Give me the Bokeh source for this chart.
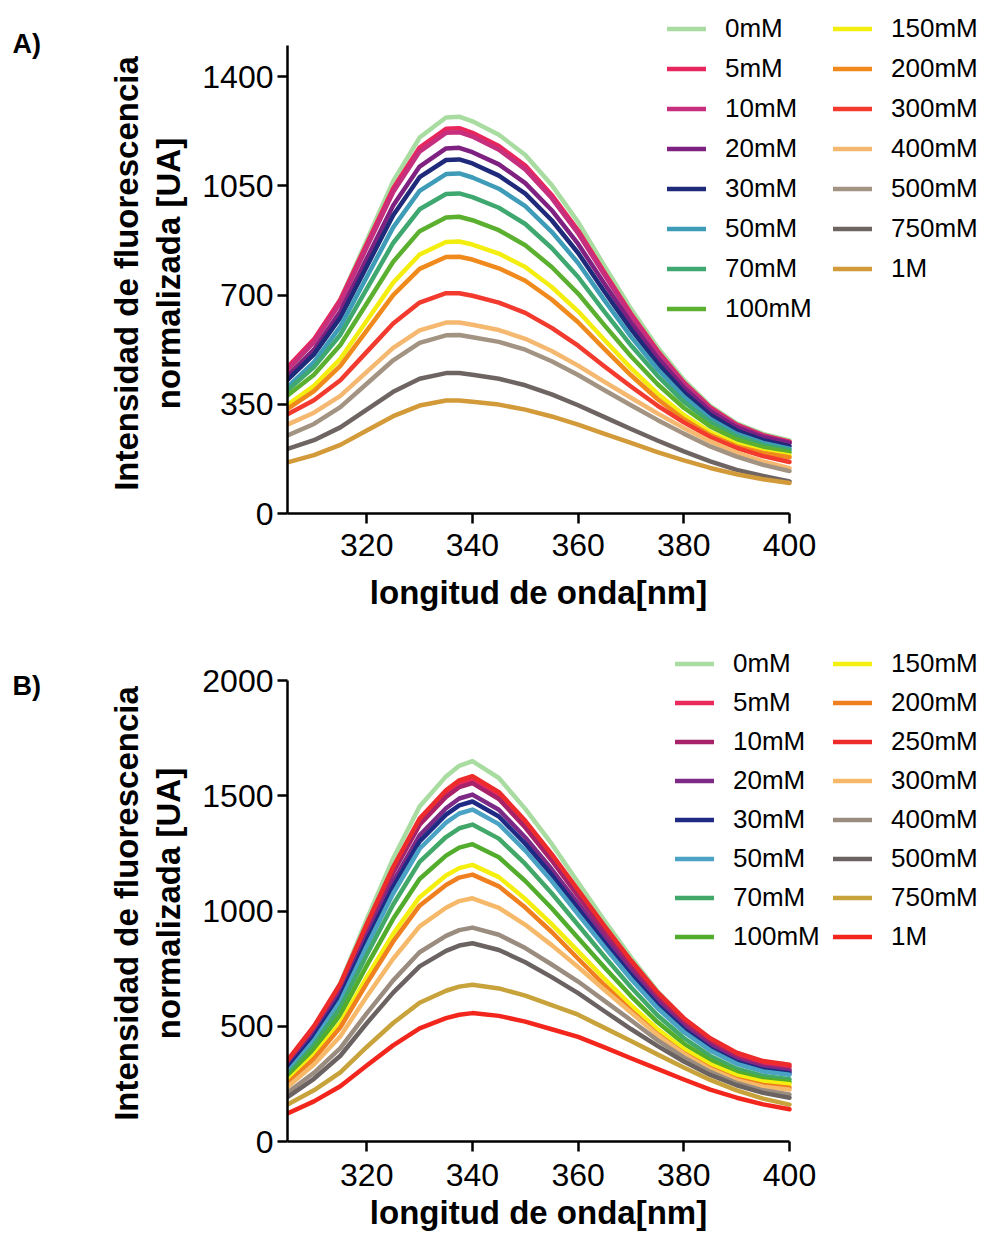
import math
from bokeh.plotting import figure
from bokeh.models import Legend, LegendItem, Label, Range1d, FixedTicker
from bokeh.layouts import column, row
from bokeh.embed import file_html
from bokeh.resources import INLINE

# ---------------- data ----------------
wavelength = [305, 310, 315, 320, 325, 330, 335, 337.5, 340, 345, 350, 355, 360,
              365, 370, 375, 380, 385, 390, 395, 400]

# Panel A
a_labels = ["0mM", "5mM", "10mM", "20mM", "30mM", "50mM", "70mM", "100mM",
            "150mM", "200mM", "300mM", "400mM", "500mM", "750mM", "1M"]
a_0mM = [455, 551, 686, 875, 1065, 1205, 1269, 1272, 1257, 1214, 1149, 1053, 934, 793, 656, 533, 428, 345, 289, 255, 234]
a_5mM = [469, 558, 685, 864, 1042, 1173, 1233, 1235, 1220, 1178, 1115, 1021, 907, 772, 640, 522, 420, 340, 285, 251, 230]
a_10mM = [460, 549, 675, 853, 1030, 1160, 1220, 1222, 1208, 1166, 1103, 1011, 898, 764, 634, 516, 416, 336, 282, 249, 228]
a_20mM = [440, 525, 647, 817, 987, 1112, 1170, 1172, 1158, 1119, 1059, 972, 864, 736, 612, 500, 404, 328, 277, 245, 226]
a_30mM = [428, 510, 628, 792, 956, 1078, 1133, 1135, 1122, 1083, 1025, 940, 835, 711, 591, 482, 389, 316, 266, 235, 216]
a_50mM = [405, 485, 599, 758, 917, 1034, 1088, 1090, 1077, 1041, 985, 903, 803, 683, 567, 463, 374, 303, 255, 226, 208]
a_70mM = [395, 469, 573, 720, 867, 975, 1024, 1026, 1014, 980, 928, 851, 758, 646, 539, 442, 358, 293, 248, 220, 203]
a_100mM = [378, 445, 540, 673, 807, 905, 949, 951, 940, 908, 860, 790, 705, 603, 504, 415, 339, 279, 237, 212, 196]
a_150mM = [348, 409, 496, 618, 740, 830, 870, 872, 862, 833, 790, 726, 648, 556, 466, 385, 316, 261, 223, 200, 186]
a_200mM = [335, 392, 473, 586, 700, 784, 822, 823, 814, 786, 746, 686, 613, 527, 443, 367, 302, 251, 215, 194, 180]
a_300mM = [318, 363, 427, 518, 609, 676, 706, 706, 698, 676, 643, 595, 538, 471, 407, 346, 292, 245, 210, 184, 165]
a_400mM = [285, 323, 377, 454, 531, 587, 612, 612, 605, 588, 560, 521, 474, 422, 371, 321, 274, 231, 195, 167, 145]
a_500mM = [250, 287, 341, 416, 491, 547, 571, 572, 565, 550, 525, 488, 444, 395, 347, 300, 256, 215, 182, 156, 136]
a_750mM = [207, 235, 276, 333, 390, 432, 450, 450, 445, 432, 411, 382, 347, 309, 271, 234, 199, 167, 140, 120, 103]
a_1M = [164, 187, 220, 266, 312, 346, 362, 362, 358, 349, 333, 311, 285, 255, 226, 197, 170, 146, 126, 110, 98]
a_series = [a_0mM, a_5mM, a_10mM, a_20mM, a_30mM, a_50mM, a_70mM, a_100mM,
            a_150mM, a_200mM, a_300mM, a_400mM, a_500mM, a_750mM, a_1M]
a_colors = ["#a8dca0", "#e8265e", "#c52f7e", "#7f2181", "#1f2a7a", "#3e9cb8", "#3fa870", "#5cb030",
            "#f3ee10", "#f08a1c", "#f23a2e", "#f5b870", "#a29382", "#6e6563", "#d39a3a"]
a_yticks = [0, 350, 700, 1050, 1400]

# Panel B
b_labels = ["0mM", "5mM", "10mM", "20mM", "30mM", "50mM", "70mM", "100mM",
            "150mM", "200mM", "250mM", "300mM", "400mM", "500mM", "750mM", "1M"]
b_0mM = [330, 488, 686, 964, 1228, 1453, 1584, 1630, 1650, 1577, 1443, 1291, 1124, 958, 799, 652, 532, 439, 372, 335, 318]
b_5mM = [345, 492, 676, 933, 1179, 1387, 1510, 1552, 1570, 1501, 1377, 1234, 1079, 924, 775, 638, 526, 439, 376, 341, 325]
b_10mM = [338, 484, 667, 923, 1167, 1374, 1495, 1537, 1555, 1486, 1362, 1219, 1064, 909, 761, 624, 512, 425, 362, 326, 310]
b_20mM = [322, 464, 641, 890, 1127, 1328, 1446, 1488, 1505, 1439, 1319, 1181, 1032, 882, 739, 607, 499, 415, 354, 320, 305]
b_30mM = [315, 454, 628, 872, 1105, 1302, 1418, 1458, 1475, 1410, 1292, 1157, 1010, 863, 722, 593, 487, 404, 345, 311, 296]
b_50mM = [300, 437, 608, 847, 1076, 1270, 1383, 1423, 1440, 1377, 1262, 1130, 986, 843, 705, 579, 475, 395, 337, 304, 290]
b_70mM = [288, 418, 581, 810, 1028, 1213, 1321, 1359, 1375, 1314, 1204, 1077, 939, 802, 669, 548, 449, 371, 316, 284, 270]
b_100mM = [276, 398, 550, 763, 966, 1139, 1240, 1275, 1290, 1233, 1130, 1012, 883, 755, 631, 518, 425, 353, 301, 271, 258]
b_150mM = [262, 375, 515, 713, 901, 1060, 1154, 1186, 1200, 1147, 1052, 943, 825, 706, 592, 488, 402, 335, 287, 260, 248]
b_200mM = [250, 359, 495, 686, 868, 1023, 1113, 1145, 1158, 1107, 1015, 909, 793, 678, 568, 466, 383, 318, 271, 245, 233]
b_250mM = [352, 500, 685, 944, 1191, 1401, 1524, 1567, 1585, 1516, 1391, 1247, 1091, 935, 785, 648, 535, 448, 385, 349, 333]
b_300mM = [236, 334, 457, 629, 793, 933, 1014, 1043, 1055, 1014, 940, 852, 757, 657, 560, 462, 380, 314, 266, 238, 225]
b_400mM = [212, 298, 405, 556, 699, 821, 892, 917, 928, 897, 839, 768, 694, 610, 526, 440, 365, 302, 254, 222, 204]
b_500mM = [192, 272, 372, 513, 646, 760, 827, 850, 860, 831, 778, 713, 644, 565, 488, 415, 347, 289, 244, 211, 190]
b_750mM = [160, 222, 300, 410, 514, 602, 654, 672, 680, 664, 633, 592, 550, 493, 436, 378, 321, 267, 222, 186, 160]
b_1M = [122, 174, 240, 330, 417, 491, 535, 550, 557, 545, 520, 487, 454, 408, 361, 315, 269, 225, 190, 161, 140]
b_series = [b_0mM, b_5mM, b_10mM, b_20mM, b_30mM, b_50mM, b_70mM, b_100mM,
            b_150mM, b_200mM, b_250mM, b_300mM, b_400mM, b_500mM, b_750mM, b_1M]
b_colors = ["#a8dca0", "#ea2a5a", "#a8226a", "#7c2a86", "#1f2a85", "#4aa2c4", "#42a86a", "#52ad2c",
            "#f5ef10", "#ef7f1f", "#ee2b2b", "#f6b96a", "#9b8c80", "#6b6361", "#c8a23a", "#f2261c"]
b_yticks = [0, 500, 1000, 1500, 2000]

x_ticks = [320, 340, 360, 380, 400]
x_title = "longitud de onda[nm]"
y_title_1 = "Intensidad de fluorescencia"
y_title_2 = "normalizada [UA]"

FONT = "Liberation Sans"

X0, X1 = 305, 400          # axis extent (nm)
FRAME_AXIS_W = 502          # px between 305 and 400
FRAME_W = 693               # frame extends right to host the legend
TAG_W = 195                 # left column holding panel tag + y title
LEFT_BORDER = 92            # room for y tick labels
MAIN_W = LEFT_BORDER + FRAME_W


def make_panel(series, labels, colors, y_axis_max, y_ticks, frame_h, axis_h, border_bottom,
               leg1, leg2, spacing, tick_standoff):
    x_end = X0 + (X1 - X0) * FRAME_W / FRAME_AXIS_W
    y_end = y_axis_max * frame_h / axis_h
    p = figure(frame_width=FRAME_W, frame_height=frame_h,
               min_border_left=LEFT_BORDER, min_border_right=0,
               min_border_top=0, min_border_bottom=border_bottom,
               x_range=Range1d(X0, x_end), y_range=Range1d(0, y_end),
               output_backend="svg", toolbar_location=None)
    p.outline_line_color = None
    p.xgrid.visible = False
    p.ygrid.visible = False
    p.background_fill_color = "white"
    p.border_fill_color = "white"

    renderers = []
    for vals, col in zip(series, colors):
        r = p.line(wavelength, vals, line_color=col, line_width=4.5,
                   line_cap="round", line_join="round")
        renderers.append(r)

    for ax in (p.xaxis[0], p.yaxis[0]):
        ax.axis_line_width = 2.5
        ax.axis_line_color = "black"
        ax.major_tick_line_width = 2.5
        ax.major_tick_line_color = "black"
        ax.major_tick_in = 0
        ax.major_tick_out = 10
        ax.minor_tick_line_color = None
        ax.major_label_text_font = FONT
        ax.major_label_text_font_size = "32px"
        ax.major_label_text_color = "black"

    p.xaxis.bounds = (X0, X1)
    p.yaxis.bounds = (0, y_axis_max)
    p.xaxis.ticker = FixedTicker(ticks=x_ticks)
    p.yaxis.ticker = FixedTicker(ticks=y_ticks)
    p.xaxis.major_label_standoff = tick_standoff
    p.yaxis.major_label_standoff = 4

    n1 = 8
    for (idx0, idx1, loc) in ((0, n1, leg1), (n1, len(labels), leg2)):
        items = [LegendItem(label=labels[i], renderers=[renderers[i]]) for i in range(idx0, idx1)]
        leg = Legend(items=items, location=loc, padding=0, margin=0, spacing=spacing,
                     glyph_width=39, glyph_height=31, label_height=31, label_standoff=19,
                     label_text_font=FONT, label_text_font_size="26px", label_text_color="black",
                     border_line_color=None, background_fill_alpha=0)
        p.add_layout(leg)
    return p


def text_fig(width, height):
    t = figure(width=width, height=height, min_border=0,
               x_range=Range1d(0, 1), y_range=Range1d(0, 1),
               x_axis_location=None, y_axis_location=None,
               output_backend="svg", toolbar_location=None)
    t.outline_line_color = None
    t.grid.visible = False
    t.background_fill_color = "white"
    t.border_fill_color = "white"
    return t


def add_text(fig, text, x, y, size, bold, align="left", angle=0.0):
    fig.add_layout(Label(x=x, y=y, x_units="screen", y_units="screen", text=text,
                         angle=angle, text_font=FONT, text_font_size=size,
                         text_font_style="bold" if bold else "normal",
                         text_baseline="middle", text_align=align, text_color="black"))


def make_row(series, labels, colors, y_axis_max, y_ticks, frame_h, axis_h, border_bottom,
             leg1, leg2, spacing, tick_standoff, title_h, title_y, tag, tag_y, ytitle_y):
    p = make_panel(series, labels, colors, y_axis_max, y_ticks, frame_h, axis_h, border_bottom,
                   leg1, leg2, spacing, tick_standoff)
    total_h = frame_h + border_bottom + title_h
    # this figure's frame is aligned with the panel's frame (left edge at the y axis)
    xt = text_fig(FRAME_W, title_h)
    add_text(xt, x_title, FRAME_AXIS_W / 2, title_y, "33px", True, align="center")
    left = text_fig(TAG_W, total_h)
    add_text(left, tag, 12, tag_y, "27px", True)
    add_text(left, y_title_1, 126, ytitle_y, "33px", True, align="center", angle=math.pi / 2)
    add_text(left, y_title_2, 168, ytitle_y, "33px", True, align="center", angle=math.pi / 2)
    return row(left, column(p, xt))


# Panel A: page y 0..619 ; frame 0..513 ; axis top (1500) at 45
rowA = make_row(a_series, a_labels, a_colors, 1500, a_yticks, 513, 468, 60,
                (380, 189), (546, 229), 9, 10, 46, 27, "A)", 576, 346)
# Panel B: page y 619..1235 ; frame 619..1141 ; axis top (2000) at 680
rowB = make_row(b_series, b_labels, b_colors, 2000, b_yticks, 522, 461, 50,
                (388, 189), (546, 189), 8, 12, 44, 23, "B)", 550, 332)

layout = column(rowA, rowB)
open("out.html", "w").write(file_html(layout, INLINE))
